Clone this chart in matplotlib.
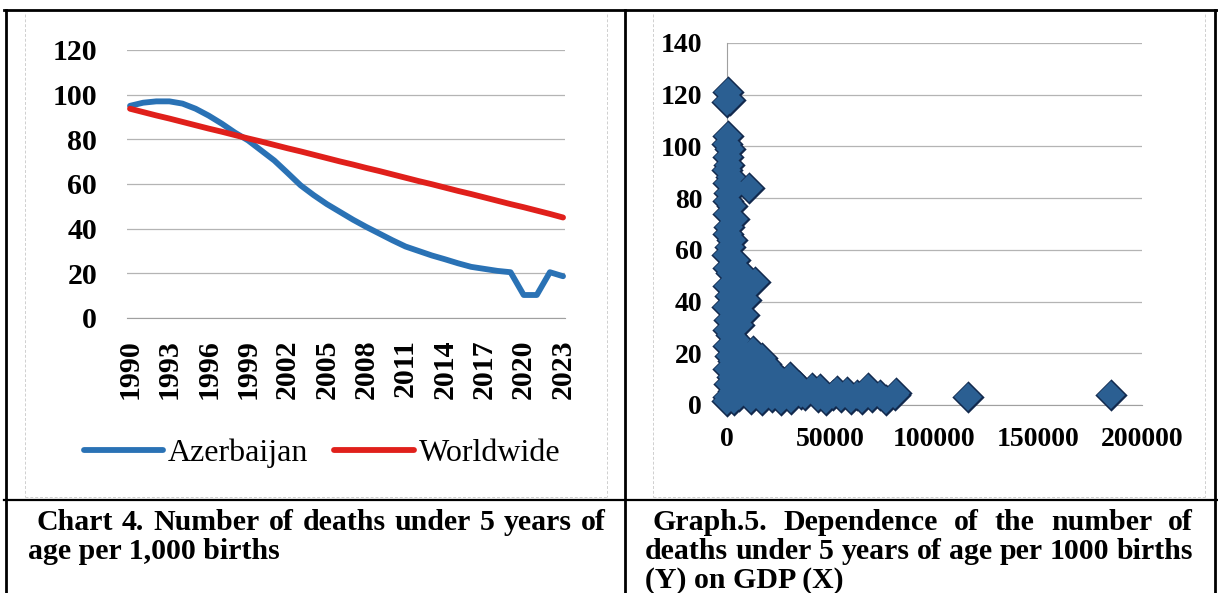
import matplotlib
matplotlib.use("Agg")
import matplotlib.pyplot as plt
from matplotlib.lines import Line2D

W, H = 1218, 593
SERIF = "Liberation Serif"

# chart 4 data: deaths under 5 per 1000 births
years = list(range(1990, 2024))
azerbaijan = [95.0, 96.4, 97.0, 97.0, 96.0, 93.7, 90.6, 87.0, 83.0, 79.5,
              75.0, 70.5, 65.0, 59.4, 55.0, 51.0, 47.5, 44.0, 40.8, 37.8,
              34.8, 32.0, 30.0, 28.0, 26.3, 24.5, 22.9, 22.0, 21.1, 20.5,
              10.3, 10.3, 20.5, 18.7]
worldwide = [93.7, 92.2, 90.7, 89.3, 87.8, 86.3, 84.8, 83.4, 81.9, 80.4,
             79.0, 77.5, 76.0, 74.6, 73.1, 71.6, 70.1, 68.7, 67.2, 65.8,
             64.3, 62.8, 61.3, 59.9, 58.4, 56.9, 55.5, 54.0, 52.5, 51.0,
             49.6, 48.1, 46.6, 45.0]
year_ticks = list(range(1990, 2024, 3))

# graph 5 data: GDP per capita (x) vs under-5 deaths (y)
gdp = [600, 1800, 400,
       800, 400, 1500, 600, 1200, 300, 2000, 900, 10800, 1300,
       500, 2500, 800, 3500, 1100, 600, 2800, 1500, 400, 4000,
       900, 2000, 9000, 13600, 700, 5000, 1600, 9500, 400, 3000,
       8500, 1200, 6000, 500, 2200, 4500, 900, 6000, 12800, 1500,
       17000, 3000, 19000, 8000, 600, 11000, 21000, 2500, 30500, 15000,
       5000, 25000, 1200, 35000, 9000, 41000, 68200, 20000, 3000, 57800,
       46000, 28000, 81700, 81000, 51300, 63000, 74000, 14000, 38000, 6000,
       900, 22000, 44000, 55000, 70000, 31000, 60000, 12000, 17000, 48000,
       77000, 3500, 26000, 36000, 65000, 400, 10000, 15000, 7000, 27000,
       23000, 45000, 53000, 33000,
       116300, 185200]
deaths = [121, 118, 117,
          104, 101, 99, 96, 93, 91, 88, 86, 84, 82,
          79, 77, 74, 72, 69, 66, 64, 61, 58, 56,
          53, 51, 50, 47.7, 46, 44, 42, 40.6, 38, 37,
          35, 33, 31, 29, 27, 25, 23, 22, 21, 19,
          18, 17, 16, 15, 14, 13, 12, 11, 10.9, 10,
          9, 8.5, 8, 7.5, 7, 6.4, 6.4, 6, 5.5, 5.1,
          5, 5, 4.5, 3.8, 3.8, 4, 4, 4.5, 4, 3.5,
          3, 3, 3, 3, 3, 2.5, 2.5, 2.2, 2, 2,
          2, 1.8, 2, 4.4, 2.3, 1.5, 16, 14, 12, 9,
          12.5, 6, 5.5, 8,
          3.2, 3.9]


def fx(x):
    return x / W


def fy(y):
    return 1 - y / H


def justified(fig, words, x0, x1, y, size):
    r = fig.canvas.get_renderer()
    arts = [fig.text(0, 0, w, fontsize=size, fontweight="bold", family=SERIF,
                     va="baseline", ha="left") for w in words]
    widths = [a.get_window_extent(r).width for a in arts]
    gap = (x1 - x0 - sum(widths)) / (len(words) - 1)
    x = x0
    for a, w in zip(arts, widths):
        a.set_position((fx(x), fy(y)))
        x += w + gap


fig = plt.figure(figsize=(W / 100, H / 100), dpi=100)
fig.patch.set_facecolor("white")

# ---- chart 4 ----
ax1 = fig.add_axes([fx(127), fy(318), (565 - 127) / W, (318 - 50) / H])
ax1.plot(years, azerbaijan, color="#2A72B5", lw=4.2, solid_capstyle="round",
         solid_joinstyle="round", label="Azerbaijan", zorder=3, clip_on=False)
ax1.plot(years, worldwide, color="#E0201B", lw=4.2, solid_capstyle="round",
         solid_joinstyle="round", label="Worldwide", zorder=3, clip_on=False)
ax1.set_xlim(1989.77, 2023.15)
ax1.set_ylim(0, 120)
ax1.set_yticks(range(0, 121, 20))
ax1.set_xticks(year_ticks)
ax1.set_xticklabels([str(y) for y in year_ticks], rotation=90)
ax1.grid(axis="y", color="#b4b4b4", lw=0.9)
ax1.set_axisbelow(True)
for s in ["top", "right", "left"]:
    ax1.spines[s].set_visible(False)
ax1.spines["bottom"].set_color("#a0a0a0")
ax1.tick_params(length=0)
ax1.tick_params(axis="y", pad=21.5)
ax1.tick_params(axis="x", pad=15.5)
for lab in ax1.get_xticklabels() + ax1.get_yticklabels():
    lab.set_fontfamily(SERIF)
    lab.set_fontweight("bold")
    lab.set_fontsize(21.5)
ax1.legend(loc="center", bbox_to_anchor=(fx(322), fy(453)),
           bbox_transform=fig.transFigure, ncol=2, frameon=False,
           handlelength=2.5, handletextpad=0.15, columnspacing=0.8,
           prop={"family": SERIF, "size": 23})

# ---- graph 5 ----
ax2 = fig.add_axes([fx(726.5), fy(405), (1142 - 726.5) / W, (405 - 43) / H])
ax2.plot(gdp, deaths, ls="none", marker="D", ms=14.3, mfc="#12294d",
         mec="#12294d", mew=2.2, zorder=3, clip_on=False)
ax2.plot(gdp, deaths, ls="none", marker="D", ms=14.3, mfc="#2B5F92",
         mew=0, zorder=4, clip_on=False)
ax2.set_xlim(0, 200000)
ax2.set_ylim(0, 140)
ax2.set_yticks(range(0, 141, 20))
ax2.set_xticks(range(0, 200001, 50000))
ax2.grid(axis="y", color="#b4b4b4", lw=0.9)
ax2.set_axisbelow(True)
for s in ["top", "right"]:
    ax2.spines[s].set_visible(False)
ax2.spines["bottom"].set_color("#a0a0a0")
ax2.spines["left"].set_color("#a0a0a0")
ax2.tick_params(length=0)
ax2.tick_params(axis="y", pad=17.5)
ax2.tick_params(axis="x", pad=16)
for lab in ax2.get_xticklabels() + ax2.get_yticklabels():
    lab.set_fontfamily(SERIF)
    lab.set_fontweight("bold")
    lab.set_fontsize(20)

# ---- table borders ----
def rule(x0, y0, x1, y1, lw=2.0, color="black", ls="-"):
    fig.add_artist(Line2D([fx(x0), fx(x1)], [fy(y0), fy(y1)], color=color,
                          lw=lw, ls=ls, transform=fig.transFigure))

rule(4, 10, 1218, 10)
rule(6, 10, 6, 593)
rule(625, 10, 625, 593)
rule(1215, 10, 1215, 593)
rule(4, 500, 1218, 500, lw=1.6)
# faint chart frames
for a, b in [(25, 607), (653, 1205)]:
    rule(a, 14, a, 497, lw=0.7, color="#cfcfcf", ls=(0, (3, 2)))
    rule(b, 14, b, 497, lw=0.7, color="#cfcfcf", ls=(0, (3, 2)))
    rule(a, 497, b, 497, lw=0.7, color="#cfcfcf", ls=(0, (3, 2)))

# ---- captions ----
fig.canvas.draw()
justified(fig, "Chart 4. Number of deaths under 5 years of".split(), 36, 606, 530, 21.5)
fig.text(fx(28), fy(559), "age per 1,000 births", fontsize=21.5, fontweight="bold",
         family=SERIF, va="baseline")
justified(fig, "Graph.5. Dependence of the number of".split(), 653, 1193, 530, 21.5)
justified(fig, "deaths under 5 years of age per 1000 births".split(), 645, 1193, 559, 21.5)
fig.text(fx(645), fy(588), "(Y) on GDP (X)", fontsize=21.5, fontweight="bold",
         family=SERIF, va="baseline")

fig.savefig("out.png", dpi=100)
